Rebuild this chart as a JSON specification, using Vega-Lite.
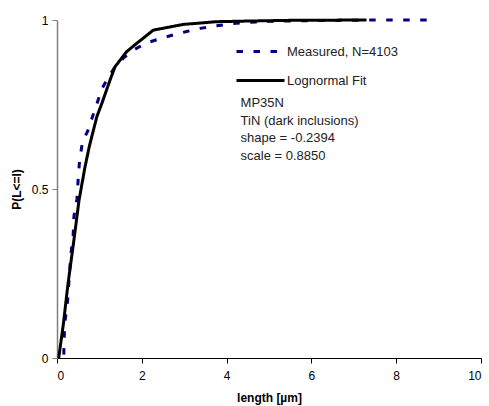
{
  "$schema": "https://vega.github.io/schema/vega-lite/v6.json",
  "width": 424,
  "height": 338,
  "autosize": {"type": "none"},
  "padding": {"left": 57, "top": 20, "right": 8, "bottom": 48},
  "background": "white",
  "config": {
    "view": {"stroke": null},
    "font": "Liberation Sans",
    "axis": {"grid": false, "labelFont": "Liberation Sans", "titleFont": "Liberation Sans", "labelColor": "#000", "titleColor": "#000", "labelFontSize": 12, "titleFontSize": 12, "titleFontWeight": "bold", "tickSize": 5}
  },
  "datasets": {
    "curves": [
      {"series": "Measured, N=4103", "len": 0.16, "p": 0.01},
      {"series": "Measured, N=4103", "len": 0.18, "p": 0.1},
      {"series": "Measured, N=4103", "len": 0.25, "p": 0.17},
      {"series": "Measured, N=4103", "len": 0.29, "p": 0.24},
      {"series": "Measured, N=4103", "len": 0.32, "p": 0.3},
      {"series": "Measured, N=4103", "len": 0.38, "p": 0.36},
      {"series": "Measured, N=4103", "len": 0.4, "p": 0.42},
      {"series": "Measured, N=4103", "len": 0.47, "p": 0.47},
      {"series": "Measured, N=4103", "len": 0.5, "p": 0.53},
      {"series": "Measured, N=4103", "len": 0.53, "p": 0.58},
      {"series": "Measured, N=4103", "len": 0.6, "p": 0.64},
      {"series": "Measured, N=4103", "len": 0.72, "p": 0.67},
      {"series": "Measured, N=4103", "len": 0.8, "p": 0.7},
      {"series": "Measured, N=4103", "len": 0.88, "p": 0.73},
      {"series": "Measured, N=4103", "len": 0.97, "p": 0.763},
      {"series": "Measured, N=4103", "len": 1.05, "p": 0.795},
      {"series": "Measured, N=4103", "len": 1.21, "p": 0.83},
      {"series": "Measured, N=4103", "len": 1.37, "p": 0.862},
      {"series": "Measured, N=4103", "len": 1.58, "p": 0.889},
      {"series": "Measured, N=4103", "len": 1.8, "p": 0.911},
      {"series": "Measured, N=4103", "len": 2.09, "p": 0.931},
      {"series": "Measured, N=4103", "len": 2.41, "p": 0.944},
      {"series": "Measured, N=4103", "len": 2.74, "p": 0.956},
      {"series": "Measured, N=4103", "len": 3.06, "p": 0.966},
      {"series": "Measured, N=4103", "len": 3.41, "p": 0.976},
      {"series": "Measured, N=4103", "len": 3.77, "p": 0.983},
      {"series": "Measured, N=4103", "len": 4.12, "p": 0.989},
      {"series": "Measured, N=4103", "len": 4.51, "p": 0.993},
      {"series": "Measured, N=4103", "len": 5.0, "p": 0.996},
      {"series": "Measured, N=4103", "len": 5.8, "p": 0.998},
      {"series": "Measured, N=4103", "len": 6.8, "p": 0.999},
      {"series": "Measured, N=4103", "len": 7.5, "p": 1.0},
      {"series": "Measured, N=4103", "len": 8.8, "p": 1.0},
      {"series": "Lognormal Fit", "len": 0.04, "p": 0.0},
      {"series": "Lognormal Fit", "len": 0.15, "p": 0.1},
      {"series": "Lognormal Fit", "len": 0.26, "p": 0.22},
      {"series": "Lognormal Fit", "len": 0.4, "p": 0.35},
      {"series": "Lognormal Fit", "len": 0.52, "p": 0.467},
      {"series": "Lognormal Fit", "len": 0.66, "p": 0.565},
      {"series": "Lognormal Fit", "len": 0.76, "p": 0.625},
      {"series": "Lognormal Fit", "len": 0.94, "p": 0.714},
      {"series": "Lognormal Fit", "len": 1.06, "p": 0.754},
      {"series": "Lognormal Fit", "len": 1.25, "p": 0.822},
      {"series": "Lognormal Fit", "len": 1.37, "p": 0.862},
      {"series": "Lognormal Fit", "len": 1.64, "p": 0.906},
      {"series": "Lognormal Fit", "len": 1.88, "p": 0.931},
      {"series": "Lognormal Fit", "len": 2.27, "p": 0.97},
      {"series": "Lognormal Fit", "len": 2.98, "p": 0.987},
      {"series": "Lognormal Fit", "len": 3.77, "p": 0.995},
      {"series": "Lognormal Fit", "len": 4.55, "p": 0.997},
      {"series": "Lognormal Fit", "len": 5.5, "p": 0.999},
      {"series": "Lognormal Fit", "len": 7.3, "p": 1.0}
    ],
    "note": [
      {"label": "MP35N\nTiN (dark inclusions)\nshape = -0.2394\nscale = 0.8850"}
    ]
  },
  "layer": [
    {
      "data": {"name": "curves"},
      "mark": {"type": "line", "strokeWidth": 3, "strokeCap": "butt"},
      "encoding": {
        "x": {"field": "len", "type": "quantitative", "title": "length [µm]", "scale": {"domain": [0, 10], "nice": false},
              "axis": {"values": [0, 2, 4, 6, 8, 10], "domainColor": "#000", "tickColor": "#000", "labelPadding": 7, "titlePadding": 11}},
        "y": {"field": "p", "type": "quantitative", "title": "P(L<=l)", "scale": {"domain": [0, 1], "nice": false},
              "axis": {"values": [0, 0.5, 1], "format": "~g", "domainColor": "#808080", "tickColor": "#808080", "labelPadding": 4, "titlePadding": 8, "domainWidth": 1.5}},
        "color": {"field": "series", "type": "nominal", "title": null,
                  "scale": {"domain": ["Measured, N=4103", "Lognormal Fit"], "range": ["#000080", "#000000"]},
                  "legend": {"orient": "none", "legendX": 190, "legendY": 18, "symbolType": "M-2,0H2", "symbolSize": 576, "symbolStrokeWidth": 3, "labelFontSize": 13, "labelFont": "Liberation Sans", "labelColor": "#222", "rowPadding": 8, "labelOffset": 13}},
        "strokeDash": {"field": "series", "type": "nominal", "title": null,
                  "scale": {"domain": ["Measured, N=4103", "Lognormal Fit"], "range": [[6.5, 10.5], [1, 0]]}}
      }
    },
    {
      "data": {"name": "note"},
      "mark": {"type": "text", "align": "left", "baseline": "top", "lineBreak": "\n", "lineHeight": 17.7, "fontSize": 13, "font": "Liberation Sans", "color": "#222"},
      "encoding": {
        "text": {"field": "label"},
        "x": {"datum": 4.33},
        "y": {"datum": 0.772}
      }
    }
  ]
}
